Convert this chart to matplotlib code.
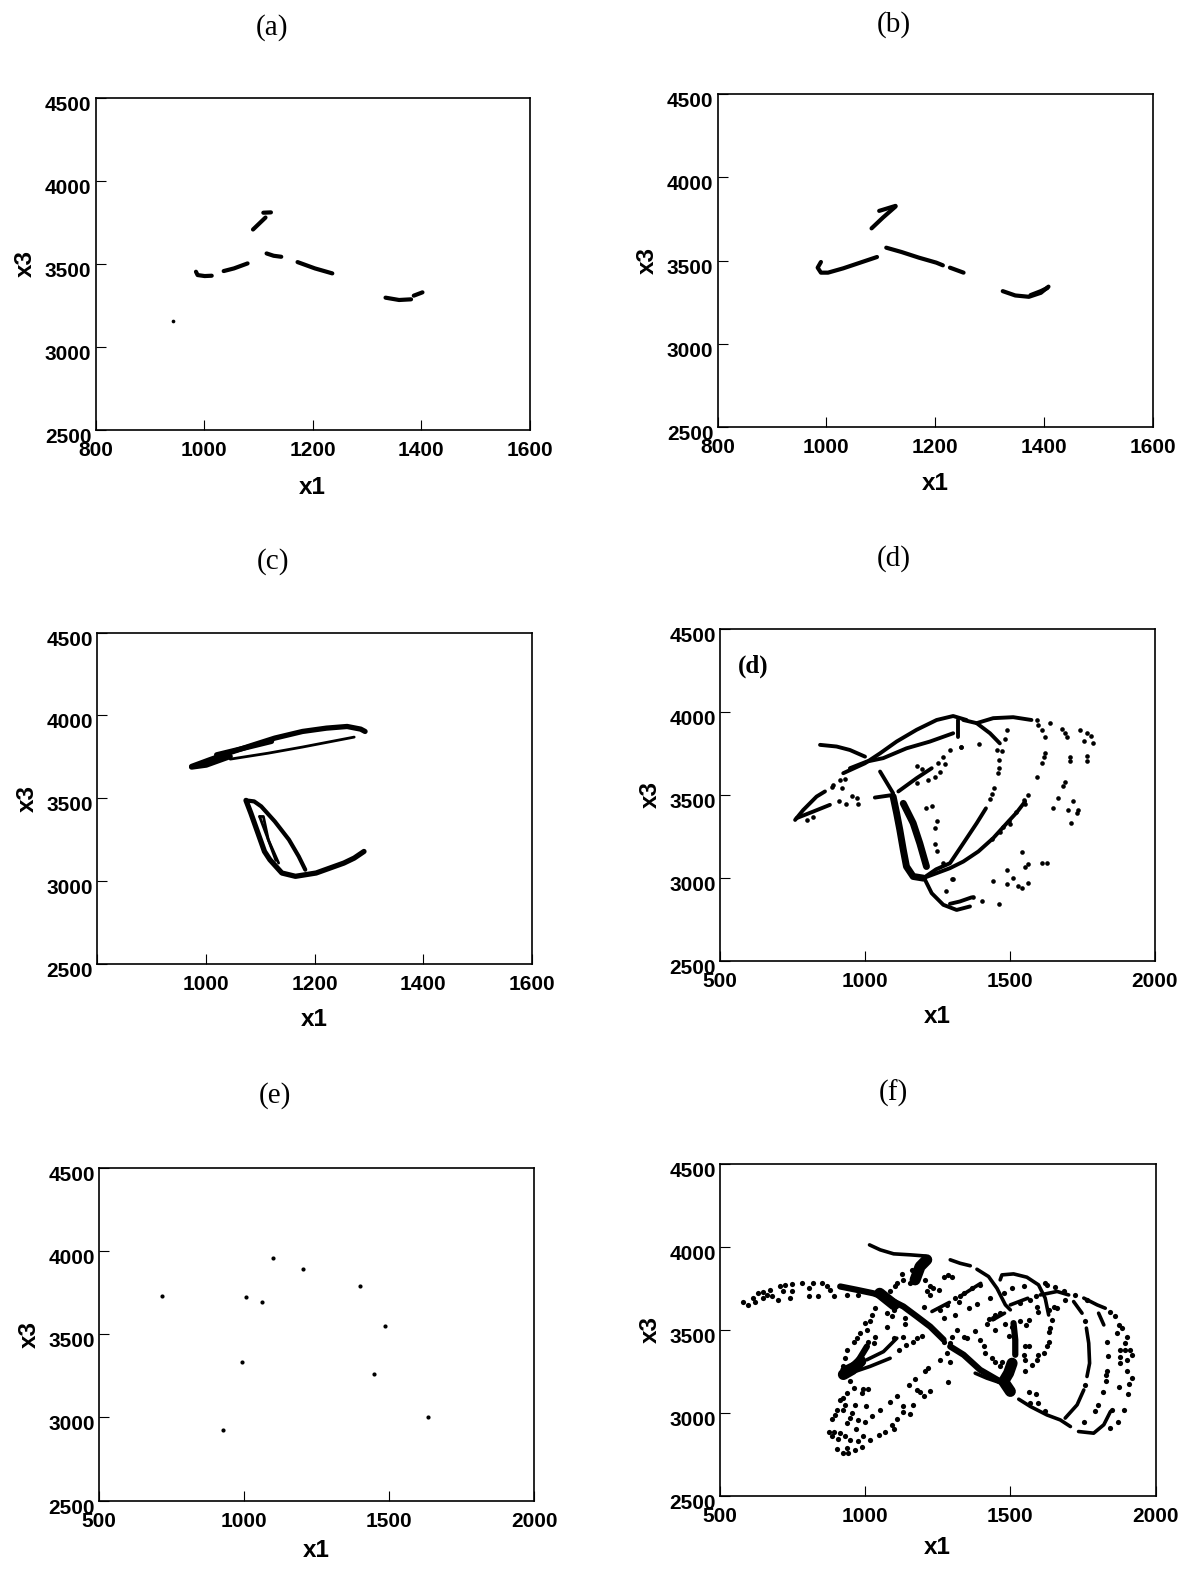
import matplotlib
matplotlib.use("Agg")
import matplotlib.pyplot as plt
from matplotlib.transforms import ScaledTranslation

W, H = 1192, 1569

Y_TICKS = [2500, 3000, 3500, 4000, 4500]
X_TICKS_NARROW = [800, 1000, 1200, 1400, 1600]
X_TICKS_WIDE = [500, 1000, 1500, 2000]

# thick curve pieces: (x1 values, x3 values)
a_curves = [
    ([985, 988, 1001, 1014], [3452, 3432, 3426, 3428]),
    ([1036, 1055, 1080], [3456, 3472, 3502]),
    ([1115, 1128, 1142], [3562, 3548, 3542]),
    ([1172, 1204, 1236], [3510, 3472, 3442]),
    ([1334, 1359, 1381], [3296, 3282, 3286]),
    ([1386, 1402], [3308, 3328]),
    ([1090, 1113], [3706, 3778]),
    ([1109, 1123], [3807, 3809]),
]
a_dots_x = [942]
a_dots_y = [3153]

b_curves = [
    ([990, 984, 990, 1003, 1031, 1062, 1093], [3491, 3457, 3427, 3427, 3453, 3487, 3521]),
    ([1110, 1138, 1170, 1202, 1214], [3577, 3551, 3517, 3487, 3471]),
    ([1227, 1252], [3457, 3427]),
    ([1324, 1347, 1372, 1394, 1408], [3316, 3290, 3282, 3306, 3343]),
    ([1375, 1394, 1406], [3292, 3316, 3335]),
    ([1083, 1104, 1127], [3693, 3758, 3824]),
    ([1097, 1127], [3798, 3828]),
]

c_curves = [
    ([974, 1007, 1045, 1083, 1127, 1178, 1222, 1260, 1285, 1293], [3692, 3732, 3776, 3817, 3863, 3903, 3923, 3933, 3917, 3903]),
    ([974, 1001, 1045], [3688, 3700, 3752]),
    ([1020, 1070, 1121], [3762, 3802, 3843]),
    ([1074, 1083, 1096, 1108, 1118, 1140, 1165, 1203, 1254, 1273, 1291], [3487, 3410, 3290, 3179, 3129, 3049, 3029, 3049, 3109, 3139, 3179]),
]
c_mid = [
    ([1074, 1089, 1102, 1127, 1153, 1171, 1183], [3487, 3481, 3451, 3360, 3250, 3149, 3069]),
]
c_thin = [
    ([1045, 1115, 1178, 1273], [3736, 3772, 3809, 3869]),
    ([1099, 1106, 1115, 1134], [3390, 3390, 3250, 3109]),
    ([1099, 1115, 1129], [3390, 3250, 3125]),
]

d_curves = [
    ([845, 902, 948, 1000], [3801, 3791, 3770, 3730]),
    ([925, 1000, 1052, 1109, 1178, 1247, 1304, 1350], [3630, 3690, 3750, 3821, 3892, 3951, 3975, 3951]),
    ([948, 1006, 1063, 1143, 1224, 1304], [3660, 3700, 3721, 3780, 3821, 3871]),
    ([759, 787, 833, 862], [3348, 3408, 3489, 3520]),
    ([764, 822, 879], [3359, 3399, 3439]),
    ([1034, 1097], [3483, 3499]),
    ([1115, 1178, 1230], [3520, 3600, 3660]),
    ([1052, 1097], [3640, 3509]),
    ([1201, 1245, 1293, 1339, 1385, 1417], [2997, 3050, 3087, 3207, 3328, 3418]),
    ([1201, 1293, 1339, 1391, 1442, 1494, 1523, 1552], [2997, 3057, 3097, 3158, 3238, 3338, 3393, 3459]),
    ([1207, 1230, 1270, 1316, 1362], [2987, 2906, 2836, 2805, 2826]),
    ([1293, 1327, 1368], [2842, 2856, 2881]),
    ([1385, 1442, 1511, 1574], [3932, 3962, 3968, 3951]),
    ([1339, 1385, 1431, 1465], [3951, 3932, 3871, 3810]),
    ([1322, 1322], [3951, 3850]),
]
d_heavy = [
    ([1097, 1109, 1120, 1132, 1143, 1166, 1201], [3489, 3389, 3289, 3168, 3067, 3007, 2997]),
    ([1132, 1166, 1189, 1212], [3448, 3329, 3207, 3067]),
]
d_dots_x = [1594, 1638, 1597, 1609, 1620, 1678, 1689, 1697, 1741, 1764, 1781, 1756, 1785,
            1491, 1483, 1330, 1394, 1454, 1471, 1462, 1462, 1457, 1620, 1617, 1611, 1594,
            1707, 1707, 1764, 1764, 1689, 1684, 1446, 1439, 1431, 1563, 1548, 1552, 1664,
            1718, 1648, 1700, 1734, 1730, 1709, 1520, 1498, 1500, 1477, 1465, 1437, 1543,
            1488, 1563, 1550, 1609, 1626, 1442, 1488, 1511, 1529, 1540, 1561, 1404, 1463,
            1371, 1302, 885, 919, 891, 914, 931, 911, 933, 954, 971, 977, 801, 819,
            1180, 1195, 1270, 1276, 1253, 1258, 1241, 1218, 1178, 1293, 1330, 1212, 1230,
            1249, 1241, 1241, 1247, 1299, 1281, 1270]
d_dots_y = [3951, 3935, 3922, 3888, 3850, 3895, 3871, 3850, 3892, 3871, 3857, 3825, 3814,
            3888, 3837, 3786, 3805, 3770, 3761, 3710, 3660, 3630, 3750, 3727, 3690, 3609,
            3727, 3702, 3734, 3706, 3575, 3554, 3543, 3503, 3473, 3497, 3469, 3445, 3479,
            3465, 3423, 3405, 3405, 3389, 3329, 3393, 3344, 3325, 3304, 3278, 3232, 3156,
            3046, 3083, 3063, 3091, 3087, 2978, 2961, 2997, 2951, 2940, 2966, 2858, 2838,
            2882, 2993, 3545, 3539, 3560, 3590, 3594, 3463, 3445, 3493, 3479, 3443, 3348, 3363,
            3676, 3656, 3730, 3685, 3690, 3640, 3609, 3590, 3569, 3770, 3786, 3423, 3433,
            3344, 3302, 3204, 3162, 2993, 2917, 3091]

e_dots_x = [718, 1008, 1062, 1100, 1203, 1400, 1486, 1448, 992, 928, 1636]
e_dots_y = [3733, 3725, 3693, 3958, 3890, 3789, 3550, 3261, 3331, 2926, 3004]

f_curves = [
    ([1015, 1052, 1098, 1155, 1207], [4012, 3982, 3958, 3952, 3945]),
    ([948, 1017, 1086], [3238, 3279, 3328]),
    ([1006, 1063, 1109], [3319, 3368, 3449]),
    ([1293, 1327, 1362], [3922, 3901, 3886]),
    ([1385, 1425, 1454, 1483, 1500], [3865, 3821, 3750, 3650, 3620]),
    ([1465, 1471, 1511, 1557, 1597, 1620, 1632], [3801, 3831, 3837, 3817, 3771, 3691, 3589]),
    ([1379, 1419, 1471], [3238, 3208, 3177]),
    ([1762, 1770, 1773, 1764], [3510, 3419, 3298, 3218]),
    ([1753, 1730, 1689], [3137, 3047, 2967]),
    ([1529, 1569, 1626, 1672, 1707], [3081, 3037, 2986, 2956, 2916]),
    ([1735, 1787, 1822, 1845], [2886, 2876, 2927, 3007]),
    ([1603, 1661, 1701], [3710, 3731, 3710]),
    ([1753, 1799, 1827], [3691, 3650, 3630]),
    ([1804, 1822], [3600, 3529]),
    ([1718, 1747], [3670, 3600]),
    ([1230, 1290], [3610, 3665]),
    ([1330, 1398], [3705, 3780]),
    ([1440, 1480], [3560, 3600]),
    ([1500, 1560], [3650, 3690]),
]
f_heavy = [
    ([914, 971, 1028, 1075, 1132, 1178, 1224, 1270], [3761, 3741, 3720, 3691, 3640, 3580, 3519, 3440]),
    ([925, 971, 1006], [3258, 3298, 3399]),
    ([1511, 1517, 1517], [3540, 3439, 3349]),
    ([1293, 1339, 1396, 1465], [3399, 3349, 3258, 3188]),
]
f_blobs = [
    ([1212, 1189, 1172], [3922, 3881, 3801]),
    ([1506, 1494, 1477, 1500], [3298, 3238, 3188, 3128]),
    ([925, 955, 985], [3230, 3260, 3310]),
    ([1050, 1100], [3720, 3650]),
]
f_dots_x = [580, 598, 615, 632, 649, 621, 649, 661, 672, 678, 701, 707, 724, 747, 718, 747, 741,
            782, 805, 822, 805, 836, 851, 868, 891, 879, 937, 977,
            1126, 1109, 1132, 1161, 1155, 1207, 1235, 1270, 1287, 1212, 1224, 1086, 1103,
            1034, 1023, 1017, 1000, 1075, 1138, 1138, 1075, 1098, 1092, 1201, 1006, 983, 971,
            960, 937, 929, 925, 917, 1034, 1029, 1011, 1098, 1130, 1115, 1140, 1166, 1178, 1195,
            1258, 1218, 1207, 1172, 1152, 1178, 1189, 1203, 1224, 1284, 948, 960, 994, 1011,
            988, 937, 925, 914, 931, 965, 1003, 925, 902, 896, 885, 954, 948, 977, 998, 1023,
            1052, 1086, 1109, 1130, 1164, 1132, 1109, 1155, 939, 969, 1094, 1098, 1069, 1046,
            1017, 994, 977, 948, 931, 914, 891, 877, 885, 908, 902, 925, 942, 965, 988, 937,
            1293, 1270, 1281, 1293, 1224, 1253, 1281, 1258, 1270,
            1299, 1310, 1339, 1327, 1368, 1396, 1431, 1356, 1385, 1322, 1506, 1477, 1546, 1569,
            1589, 1534, 1448, 1425, 1442, 1465, 1592, 1597, 1649, 1661, 1632, 1643, 1638, 1632,
            1632, 1626, 1615, 1597, 1592, 1574, 1552, 1448, 1379, 1419, 1483, 1534, 1566, 1555,
            1494, 1506, 1316, 1339, 1396, 1408, 1310, 1299, 1350, 1552, 1563, 1546, 1552, 1437,
            1448, 1465, 1414, 1471, 1620, 1626, 1655, 1684, 1689, 1724, 1764, 1845, 1862, 1873,
            1885, 1868, 1902, 1896, 1833, 1879, 1896, 1913, 1919, 1879, 1902, 1879, 1835, 1902,
            1919, 1833, 1831, 1830, 1908, 1873, 1819, 1904, 1890, 1801, 1850, 1871, 1845, 1758,
            1756, 1565, 1589, 1569, 1594, 1620, 1753, 1793]
f_dots_y = [3665, 3650, 3691, 3720, 3727, 3670, 3691, 3710, 3741, 3701, 3680, 3765, 3771, 3777, 3731, 3731, 3691,
            3780, 3750, 3784, 3701, 3701, 3784, 3761, 3701, 3741, 3710, 3710,
            3835, 3780, 3801, 3861, 3780, 3801, 3750, 3821, 3831, 3731, 3761, 3731, 3761,
            3630, 3590, 3550, 3540, 3519, 3570, 3534, 3600, 3620, 3584, 3636, 3499, 3479, 3449,
            3429, 3379, 3328, 3279, 3232, 3459, 3419, 3429, 3449, 3455, 3379, 3409, 3429, 3449, 3463,
            3319, 3268, 3249, 3204, 3168, 3137, 3124, 3103, 3132, 3182, 3188, 3147, 3141, 3141,
            3118, 3118, 3088, 3077, 3047, 3043, 3037, 3017, 3017, 2986, 2961, 2997, 2967, 2956, 2943, 2981,
            3017, 3067, 3103, 3041, 3047, 3001, 2961, 2991, 2937, 2903, 2927, 2903, 2886, 2867,
            2832, 2856, 2826, 2832, 2856, 2876, 2886, 2886, 2856, 2840, 2780, 2759, 2756, 2776, 2795, 2786,
            3419, 3429, 3359, 3308, 3710, 3741, 3650, 3620, 3570,
            3821, 3691, 3720, 3701, 3750, 3771, 3691, 3630, 3656, 3670, 3750, 3720, 3761, 3680,
            3701, 3660, 3590, 3564, 3570, 3600, 3640, 3610, 3640, 3630, 3620, 3559, 3510, 3489,
            3429, 3399, 3359, 3349, 3319, 3288, 3249, 3499, 3493, 3536, 3536, 3550, 3559, 3529,
            3463, 3519, 3499, 3459, 3440, 3399, 3590, 3459, 3449, 3399, 3402, 3349, 3319, 3328,
            3308, 3279, 3359, 3308, 3780, 3771, 3757, 3731, 3680, 3710, 3680, 3610, 3580, 3529,
            3510, 3479, 3459, 3423, 3429, 3379, 3379, 3379, 3349, 3338, 3319, 3298, 3343, 3249,
            3211, 3249, 3224, 3188, 3173, 3152, 3124, 3113, 3017, 3047, 3017, 2941, 2907, 3555,
            3168, 3124, 3113, 3058, 3058, 3007, 2941, 3007]

plt.rcParams["font.family"] = ["Liberation Sans", "DejaVu Sans"]
fig = plt.figure(figsize=(W / 100, H / 100), dpi=100)


def make_axes(left, top, right, bottom, xlim, xticks, xlabels=None):
    ax = fig.add_axes([left / W, 1 - bottom / H, (right - left) / W, (bottom - top) / H])
    ax.set_xlim(*xlim)
    ax.set_ylim(2500, 4500)
    ax.set_xticks(xticks)
    ax.set_xticklabels(xlabels if xlabels else [str(t) for t in xticks])
    ax.set_yticks(Y_TICKS)
    ax.tick_params(direction="in", length=7.5, width=0.8, labelsize=15, pad=3)
    ax.tick_params(axis="x", pad=8)
    for spine in ax.spines.values():
        spine.set_linewidth(1.2)
    shift = ScaledTranslation(0, -4 / 72, fig.dpi_scale_trans)
    for lbl in ax.get_yticklabels():
        lbl.set_fontweight("bold")
        lbl.set_transform(lbl.get_transform() + shift)
    for lbl in ax.get_xticklabels():
        lbl.set_fontweight("bold")
    h = bottom - top
    ax.set_xlabel("x1", fontsize=17.5, fontweight="bold", va="center")
    ax.set_ylabel("x3", fontsize=17.5, fontweight="bold", va="center")
    ax.yaxis.set_label_coords(-70 / (right - left), 0.5)
    return ax, h


def draw(ax, curves=(), lw=3.0):
    for xs, ys in curves:
        ax.plot(xs, ys, color="black", lw=lw, solid_capstyle="round", solid_joinstyle="round")


def dots(ax, xs, ys, size=11):
    ax.scatter(xs, ys, s=size, color="black", linewidths=0)


# (a)
ax, h = make_axes(95.5, 97.5, 530, 430, (800, 1600), X_TICKS_NARROW)
ax.xaxis.set_label_coords(0.5, -57 / h)
draw(ax, a_curves)
dots(ax, a_dots_x, a_dots_y, 7)

# (b)
ax, h = make_axes(717.5, 94, 1153, 427, (800, 1600), X_TICKS_NARROW)
ax.xaxis.set_label_coords(0.5, -56 / h)
draw(ax, b_curves, 3.0)

# (c)
ax, h = make_axes(97, 632.5, 532, 964, (800, 1600), X_TICKS_NARROW, ["", "1000", "1200", "1400", "1600"])
ax.xaxis.set_label_coords(0.5, -56 / h)
draw(ax, c_curves, 3.8)
draw(ax, c_mid, 3.0)
draw(ax, c_thin, 2.0)

# (d)
ax, h = make_axes(720, 629, 1155, 960.5, (500, 2000), X_TICKS_WIDE)
ax.xaxis.set_label_coords(0.5, -56 / h)
draw(ax, d_curves, 2.8)
draw(ax, d_heavy, 5)
dots(ax, d_dots_x, d_dots_y)
ax.text(0.04, 0.888, "(d)", transform=ax.transAxes, family="Liberation Serif",
        fontsize=18, fontweight="bold", va="center")

# (e)
ax, h = make_axes(99, 1168, 534, 1500.5, (500, 2000), X_TICKS_WIDE)
ax.xaxis.set_label_coords(0.5, -50 / h)
dots(ax, e_dots_x, e_dots_y, 9)

# (f)
ax, h = make_axes(720, 1164, 1155.5, 1495.5, (500, 2000), X_TICKS_WIDE)
ax.xaxis.set_label_coords(0.5, -52 / h)
draw(ax, f_curves, 2.6)
draw(ax, f_heavy, 4.5)
draw(ax, f_blobs, 8)
dots(ax, f_dots_x, f_dots_y, 14)

# panel letters above each plot
letters = ["(a)", "(b)", "(c)", "(d)", "(e)", "(f)"]
letter_x = [272, 894, 273, 894, 275, 893]
letter_y = [28, 25, 562, 559, 1096, 1093]
for s, lx, ly in zip(letters, letter_x, letter_y):
    fig.text(lx / W, 1 - ly / H, s, family="Liberation Serif", fontsize=21, ha="center", va="center")

fig.savefig("out.png", dpi=100)
